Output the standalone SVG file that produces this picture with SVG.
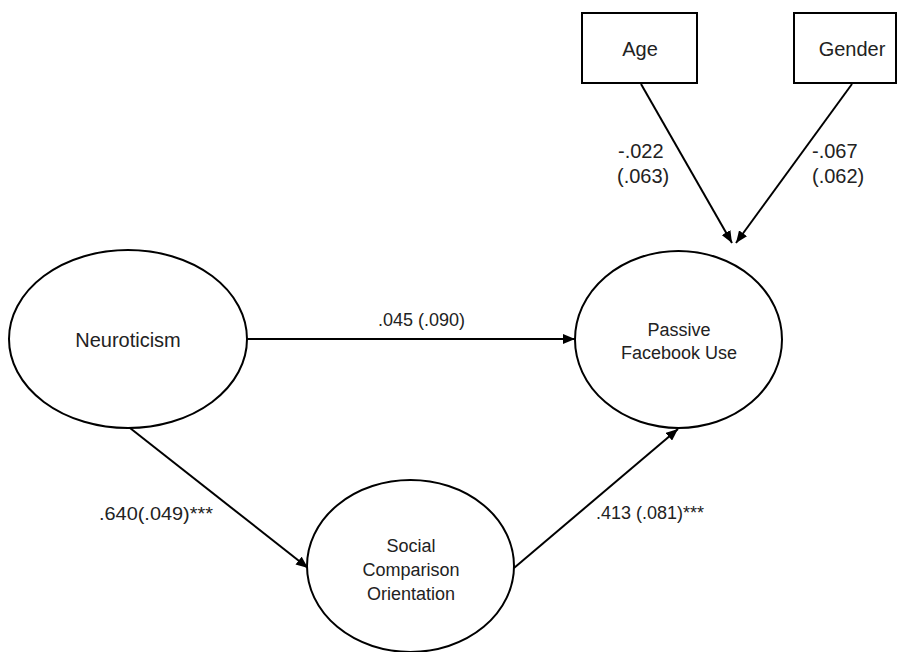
<svg xmlns="http://www.w3.org/2000/svg" width="897" height="652" viewBox="0 0 897 652">
<defs>
<marker id="arr" viewBox="0 0 12 10" refX="12" refY="5" markerWidth="12" markerHeight="10" markerUnits="userSpaceOnUse" orient="auto">
<path d="M0,0 L12,5 L0,10 Z" fill="#000"/>
</marker>
<style>
.node{fill:#fff;stroke:#000;stroke-width:2}
.t{font-family:"Liberation Sans",Arial,sans-serif;font-size:18px;fill:#222;text-anchor:middle}
.big{font-size:20px}
.l{font-family:"Liberation Sans",Arial,sans-serif;font-size:18px;fill:#222}
.lb{font-size:20px}
.edge{stroke:#000;stroke-width:2;fill:none;marker-end:url(#arr)}
</style>
</defs>
<rect width="897" height="652" fill="#fff"/>
<g id="connectors">
<line class="edge" x1="641" y1="84" x2="732" y2="243"/>
<line class="edge" x1="852" y1="84" x2="736" y2="243"/>
<line class="edge" x1="247" y1="339" x2="575" y2="339"/>
<line class="edge" x1="130" y1="428" x2="308" y2="568"/>
<line class="edge" x1="514" y1="568" x2="678" y2="429"/>
<text class="l lb" x="618" y="158">-.022</text>
<text class="l lb" x="617" y="183">(.063)</text>
<text class="l lb" x="812" y="158">-.067</text>
<text class="l lb" x="812" y="183">(.062)</text>
<text class="l" x="378" y="326">.045 (.090)</text>
<text class="l" x="99" y="520" textLength="114" lengthAdjust="spacingAndGlyphs">.640(.049)***</text>
<text class="l" x="596" y="519">.413 (.081)***</text>
</g>
<g id="age">
<rect class="node" x="582" y="13" width="115" height="70"/>
<text class="t big" x="640" y="56">Age</text>
</g>
<g id="gender">
<rect class="node" x="794" y="13" width="102" height="70"/>
<text class="t big" x="852" y="56">Gender</text>
</g>
<g id="neuroticism">
<ellipse class="node" cx="128" cy="339" rx="119" ry="89"/>
<text class="t big" x="128" y="347">Neuroticism</text>
</g>
<g id="passive">
<ellipse class="node" cx="678.5" cy="339.5" rx="103.5" ry="88.5"/>
<text class="t" x="679" y="336">Passive</text>
<text class="t" x="679" y="359">Facebook Use</text>
</g>
<g id="social">
<ellipse class="node" cx="410.5" cy="566" rx="103.5" ry="86"/>
<text class="t" x="411" y="552">Social</text>
<text class="t" x="411" y="576">Comparison</text>
<text class="t" x="411" y="600">Orientation</text>
</g>
</svg>
